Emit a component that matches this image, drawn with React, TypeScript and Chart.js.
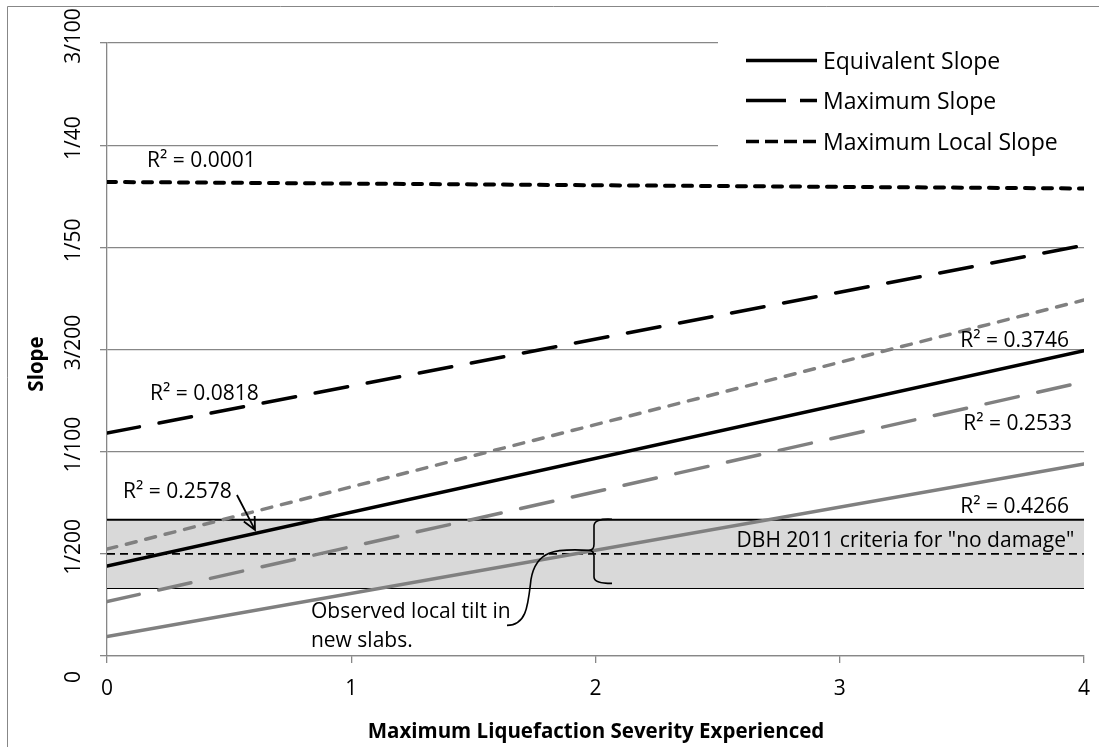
import React, { useEffect, useRef } from "react";
import { Chart, registerables } from "chart.js";

Chart.register(...registerables);

// ---------- data ----------
const xValues = [0, 4];
// black trend lines (legend entries)
const equivalentSlope = [0.0044, 0.01494];
const maximumSlope = [0.01091, 0.0201];
const maximumLocalSlope = [0.0232, 0.02288];
// grey trend lines (new slabs)
const equivalentSlopeNew = [0.00095, 0.0094];
const maximumSlopeNew = [0.00266, 0.01342];
const maximumLocalSlopeNew = [0.00523, 0.01742];
// reference lines
const dbhCriteria = [1 / 200, 1 / 200];
const observedTiltUpper = [1 / 150, 1 / 150];
const observedTiltLower = [1 / 300, 1 / 300];

const yTickValues = [0, 0.005, 0.01, 0.015, 0.02, 0.025, 0.03];
const yTickLabels = ["0", "1/200", "1/100", "3/200", "1/50", "1/40", "3/100"];
const xTickValues = [0, 1, 2, 3, 4];
const xTickLabels = ["0", "1", "2", "3", "4"];
const legendLabels = ["Equivalent Slope", "Maximum Slope", "Maximum Local Slope"];
const rSquaredLabels = [
  "R² = 0.0001",
  "R² = 0.0818",
  "R² = 0.2578",
  "R² = 0.3746",
  "R² = 0.2533",
  "R² = 0.4266",
];
const xAxisTitle = "Maximum Liquefaction Severity Experienced";
const yAxisTitle = "Slope";
const dbhText = 'DBH 2011 criteria for "no damage"';
const observedText = ["Observed local tilt in", "new slabs."];

// ---------- styling ----------
const FONT = '"Open Sans", Lato, sans-serif';
const GREY = "#808080";
const GRID = "#878787";

// annotation anchors in data space [x, y, align]
const rSquaredPos: [number, number, CanvasTextAlign][] = [
  [0.164, 0.02393, "left"],
  [0.176, 0.01253, "left"],
  [0.0655, 0.00773, "left"],
  [3.939, 0.01514, "right"],
  [3.951, 0.01106, "right"],
  [3.939, 0.007, "right"],
];

const series = (ys: number[]) => xValues.map((x, i) => ({ x, y: ys[i] }));

const lineDs = (label: string, ys: number[], color: string, dash: number[], width: number, order: number) => ({
  label,
  data: series(ys),
  borderColor: color,
  borderWidth: width,
  borderDash: dash,
  borderCapStyle: "round" as const,
  pointRadius: 0,
  fill: false,
  tension: 0,
  order,
});

const customPlugin = {
  id: "customDraw",
  beforeDatasetsDraw(chart: any) {
    const ctx = chart.ctx as CanvasRenderingContext2D;
    ctx.save();
    ctx.fillStyle = "#ffffff";
    ctx.fillRect(718, 18, 380, 138);
    ctx.restore();
  },
  afterDraw(chart: any) {
    const ctx = chart.ctx as CanvasRenderingContext2D;
    const xs = chart.scales.x;
    const ys = chart.scales.y;
    const px = (v: number) => xs.getPixelForValue(v);
    const py = (v: number) => ys.getPixelForValue(v);
    ctx.save();

    // outer frame (left & top)
    ctx.strokeStyle = GRID;
    ctx.lineWidth = 1;
    ctx.beginPath();
    ctx.moveTo(7.5, 760);
    ctx.lineTo(7.5, 6.5);
    ctx.lineTo(1110, 6.5);
    ctx.stroke();

    ctx.fillStyle = "#000";
    // y tick labels (rotated)
    ctx.font = `21px ${FONT}`;
    ctx.textBaseline = "alphabetic";
    ctx.textAlign = "center";
    yTickValues.forEach((v, i) => {
      const label = yTickLabels[i];
      const shift = v === 0 ? 21 : -7;
      ctx.save();
      ctx.translate(80, py(v) + shift);
      ctx.rotate(-Math.PI / 2);
      ctx.fillText(label, 0, 0);
      ctx.restore();
    });
    // x tick labels
    xTickValues.forEach((v, i) => {
      ctx.fillText(xTickLabels[i], px(v), 695);
    });

    // axis titles
    ctx.font = `bold 20.5px ${FONT}`;
    ctx.fillText(xAxisTitle, 596, 738);
    ctx.save();
    ctx.translate(43, 364);
    ctx.rotate(-Math.PI / 2);
    ctx.fillText(yAxisTitle, 0, 0);
    ctx.restore();

    // legend
    ctx.font = `23px ${FONT}`;
    ctx.textAlign = "left";
    const legendY = [60.5, 100.5, 141.5];
    const legendDash = [[], [40, 14], [13, 6]];
    legendLabels.forEach((lab, i) => {
      ctx.save();
      ctx.strokeStyle = "#000";
      ctx.lineWidth = 3.5;
      ctx.lineCap = "butt";
      ctx.setLineDash(legendDash[i]);
      ctx.beginPath();
      ctx.moveTo(746, legendY[i]);
      ctx.lineTo(817, legendY[i]);
      ctx.stroke();
      ctx.restore();
      ctx.fillText(lab, 823, legendY[i] + 8);
    });

    // R² labels
    ctx.font = `21px ${FONT}`;
    rSquaredLabels.forEach((lab, i) => {
      const [x, y, align] = rSquaredPos[i];
      ctx.textAlign = align;
      ctx.fillText(lab, px(x), py(y));
    });

    // DBH criteria text
    ctx.textAlign = "center";
    ctx.fillText(dbhText, px(3.269), py(0.00533));

    // observed text
    ctx.textAlign = "left";
    ctx.fillText(observedText[0], px(0.835), py(0.00186));
    ctx.fillText(observedText[1], px(0.835), py(0.000455));

    // brace at x = 2 spanning observed band
    const bx = px(2) - 1.5;
    const top = py(1 / 150);
    const bot = py(1 / 300) - 5;
    const mid = py(1 / 200) - 3.5;
    ctx.strokeStyle = "#000";
    ctx.lineWidth = 1.6;
    ctx.beginPath();
    ctx.moveTo(bx + 18, top - 0.5);
    ctx.quadraticCurveTo(bx, top - 1.5, bx, top + 6);
    ctx.lineTo(bx, mid - 6);
    ctx.quadraticCurveTo(bx, mid, bx - 5, mid);
    ctx.quadraticCurveTo(bx, mid, bx, mid + 6);
    ctx.lineTo(bx, bot - 6);
    ctx.quadraticCurveTo(bx, bot + 0.5, bx + 18, bot + 0.5);
    ctx.stroke();

    // callout curve from brace to text
    const sx = bx - 5;
    ctx.beginPath();
    ctx.moveTo(sx, mid);
    ctx.bezierCurveTo(sx - 34, mid - 2, sx - 53, mid, sx - 58, mid + 29);
    ctx.bezierCurveTo(sx - 61, mid + 54, sx - 62, mid + 75, sx - 82, mid + 75);
    ctx.stroke();

    // arrow for R² = 0.2578
    const ax0 = px(0.532), ay0 = py(0.00788);
    const ax1 = px(0.606), ay1 = py(0.00617);
    ctx.lineWidth = 1.8;
    ctx.beginPath();
    ctx.moveTo(ax0, ay0);
    ctx.lineTo(ax1, ay1);
    const ang = Math.atan2(ay1 - ay0, ax1 - ax0);
    const hl = 14;
    ctx.moveTo(ax1 - hl * Math.cos(ang - 0.45), ay1 - hl * Math.sin(ang - 0.45));
    ctx.lineTo(ax1, ay1);
    ctx.lineTo(ax1 - hl * Math.cos(ang + 0.45), ay1 - hl * Math.sin(ang + 0.45));
    ctx.stroke();

    ctx.restore();
  },
};

export default function App() {
  const ref = useRef<HTMLCanvasElement | null>(null);
  useEffect(() => {
    if (!ref.current) return;
    const chart = new Chart(ref.current, {
      type: "line",
      data: {
        datasets: [
          lineDs("Equivalent Slope", equivalentSlope, "#000000", [], 3.5, 1),
          lineDs("Maximum Slope", maximumSlope, "#000000", [33, 20], 3.5, 1),
          lineDs("Maximum Local Slope", maximumLocalSlope, "#000000", [9, 9], 4, 1),
          lineDs("Equivalent Slope (new slabs)", equivalentSlopeNew, GREY, [], 3.5, 2),
          lineDs("Maximum Slope (new slabs)", maximumSlopeNew, GREY, [33, 20], 3.5, 2),
          lineDs("Maximum Local Slope (new slabs)", maximumLocalSlopeNew, GREY, [10, 10], 3.5, 2),
          {
            ...lineDs("DBH 2011 criteria", dbhCriteria, "#000000", [8, 5], 1.6, 3),
            borderCapStyle: "butt" as const,
          },
          {
            label: "Observed upper",
            data: series(observedTiltUpper),
            borderColor: "#000000",
            borderWidth: 2,
            backgroundColor: "#d9d9d9",
            pointRadius: 0,
            fill: "+1",
            order: 4,
          },
          {
            label: "Observed lower",
            data: series(observedTiltLower),
            borderColor: "#000000",
            borderWidth: 2,
            pointRadius: 0,
            fill: false,
            order: 4,
          },
        ],
      },
      options: {
        animation: false,
        responsive: false,
        devicePixelRatio: 1,
        events: [],
        layout: { padding: { left: 0, right: 15, top: 43, bottom: 0 } },
        plugins: { legend: { display: false }, tooltip: { enabled: false }, title: { display: false } },
        scales: {
          x: {
            type: "linear",
            min: 0,
            max: 4,
            ticks: { display: false, stepSize: 1 },
            grid: { drawOnChartArea: false, drawTicks: true, tickLength: 7, color: GRID, lineWidth: 1.3 },
            border: { color: GRID, width: 1.3 },
            afterFit: (s: any) => {
              s.height = 91;
            },
          },
          y: {
            type: "linear",
            min: 0,
            max: 0.03,
            ticks: { display: false, stepSize: 0.005 },
            grid: { drawTicks: true, tickLength: 7, color: GRID, lineWidth: 1.3 },
            border: { color: GRID, width: 1.3 },
            afterFit: (s: any) => {
              s.width = 107;
            },
          },
        },
      },
      plugins: [customPlugin],
    });
    return () => chart.destroy();
  }, []);
  return (
    <div style={{ position: "absolute", left: 0, top: 0, width: 1099, height: 747, background: "#fff" }}>
      <canvas ref={ref} width={1099} height={747} style={{ display: "block" }} />
    </div>
  );
}
